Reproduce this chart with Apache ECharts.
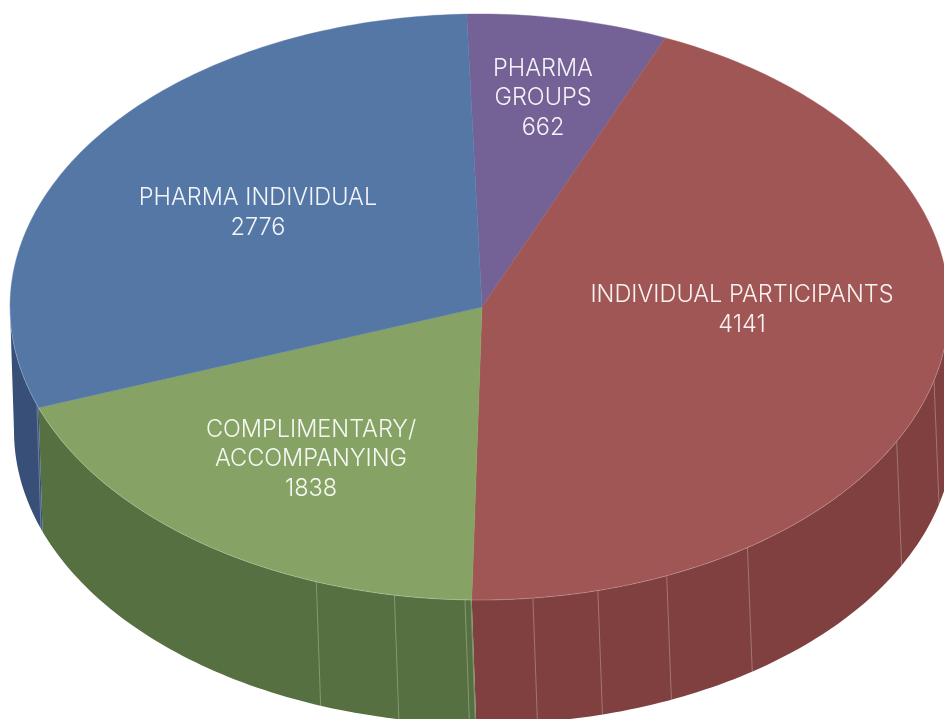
<!DOCTYPE html>
<html>
<head>
<meta charset="utf-8">
<style>html,body{margin:0;padding:0;background:#fff}#c{width:944px;height:719px}</style>
<script src="https://cdn.jsdelivr.net/npm/echarts@6/dist/echarts.min.js"></script>
</head>
<body>
<div id="c"></div>
<script>
const categories = ['PHARMA\nGROUPS', 'INDIVIDUAL PARTICIPANTS', 'COMPLIMENTARY/\nACCOMPANYING', 'PHARMA INDIVIDUAL'];
const values = [662, 4141, 1838, 2776];
const topColors = ['#746296', '#A05654', '#86A365', '#5577A6'];
const sideColors = ['#4F4068', '#7F403F', '#567041', '#384F78'];
const labelCenters = [[543, 98], [742, 310], [311, 459], [258, 213]];
const facetAngles = [200.34, 190.44, 181.77, 181.04, 173.47, 165.4, 156.5, 145.2, 117.3, 104.5, 250.5];

const TOP = {cx: 479.5, cy: 307, rx: 469.5, ry: 293};
const BASE = {cx: 484, cy: 431, rx: 470, ry: 293};
const HUB = [482, 307];
const START = -1.8;
const total = values.reduce((a, b) => a + b, 0);
const rad = d => d * Math.PI / 180;
const pt = (e, t) => [e.cx + e.rx * Math.sin(rad(t)), e.cy - e.ry * Math.cos(rad(t))];
// the reference's perspective slightly distorts the angles
const warp = t => t - 0.28 + 1.137 * Math.sin(rad(t)) + 0.48 * Math.cos(rad(t)) - 1.116 * Math.sin(rad(2 * t));
const arc = (e, a, b) => {
  const out = [], n = Math.max(2, Math.ceil(Math.abs(b - a)));
  for (let i = 0; i <= n; i++) out.push(pt(e, a + (b - a) * i / n));
  return out;
};
function sliceRange(i) {
  let sum = 0;
  for (let k = 0; k < i; k++) sum += values[k];
  const a = START + sum / total * 360;
  return [warp(a), warp(a + values[i] / total * 360)];
}
const font = {fontFamily: 'Inter, Roboto, "Liberation Sans", sans-serif', fontWeight: 300, fontSize: 23.5, lineHeight: 29.5};

function renderSlice(params, api) {
  const i = params.dataIndex;
  const [a, b] = sliceRange(i);
  const children = [];
  const s = Math.max(a, 90), e = Math.min(b, 270);
  if (e > s) {
    children.push({
      type: 'polygon', z2: 1,
      shape: {points: arc(TOP, s, e).concat(arc(BASE, e, s))},
      style: {fill: sideColors[i]}
    });
    children.push({
      type: 'polyline', z2: 4, silent: true,
      shape: {points: arc(TOP, s, e)},
      style: {fill: null, stroke: 'rgba(255,255,255,0.25)', lineWidth: 0.8}
    });
  }
  children.push({
    type: 'polygon', z2: 3,
    shape: {points: [HUB].concat(arc(TOP, a, b))},
    style: {fill: topColors[i], stroke: topColors[i], lineWidth: 0.4}
  });
  children.push({
    type: 'text', z2: 5,
    x: labelCenters[i][0], y: labelCenters[i][1],
    style: Object.assign({
      text: categories[i] + '\n' + api.value(0),
      fill: 'rgba(255,255,255,0.92)', align: 'center', verticalAlign: 'middle'
    }, font)
  });
  return {type: 'group', children};
}
function renderFacet(params, api) {
  const t = api.value(0);
  return {
    type: 'line', z2: 2, silent: true,
    shape: {x1: pt(TOP, t)[0], y1: pt(TOP, t)[1], x2: pt(BASE, t)[0], y2: pt(BASE, t)[1]},
    style: {stroke: 'rgba(255,255,255,0.28)', lineWidth: 1}
  };
}
const chart = echarts.init(document.getElementById('c'), null, {renderer: 'canvas'});
chart.setOption({
  animation: false,
  backgroundColor: '#fff',
  series: [
    {type: 'custom', coordinateSystem: 'none', renderItem: renderSlice,
     data: values.map((v, i) => ({value: [v], name: categories[i]}))},
    {type: 'custom', coordinateSystem: 'none', renderItem: renderFacet,
     data: facetAngles.map(v => [v])}
  ]
});
</script>
</body>
</html>
